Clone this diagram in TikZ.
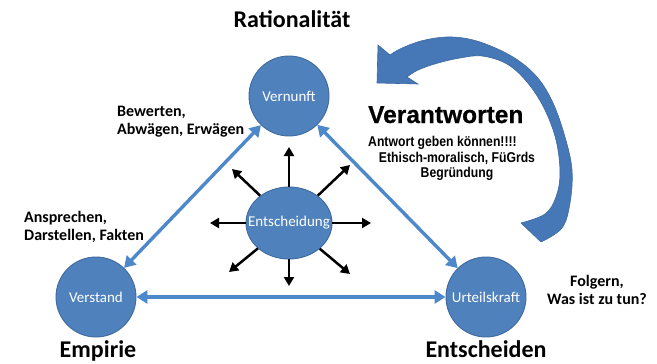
\documentclass[tikz,border=0pt]{standalone}
\usepackage{fontspec}
\setmainfont{Carlito}
\newfontfamily\heavyfont{Liberation Sans}[FakeBold=0.6]
\newfontfamily\narrowfont{Liberation Sans}[FakeStretch=0.86]
\usetikzlibrary{arrows.meta,shapes.geometric}
\definecolor{nodeblue}{HTML}{4F81BD}
\definecolor{nodeedge}{HTML}{3E6A9E}
\definecolor{linkblue}{HTML}{4C88CA}
\definecolor{bendblue}{HTML}{4677B6}
\begin{document}
\begin{tikzpicture}[x=1pt,y=-1pt,
  bubble/.style={circle, fill=nodeblue, draw=nodeedge, line width=0.9pt,
    text=white, font=\fontsize{15}{16}\selectfont, inner sep=0pt, minimum size=80pt},
  link/.style={draw=linkblue, line width=3.4pt,
    {Triangle[length=11pt,width=13pt]}-{Triangle[length=11pt,width=13pt]}},
  ray/.style={draw=black, line width=2.5pt, -{Triangle[length=9pt,width=10pt]}},
  note/.style={font=\fontsize{16}{18}\selectfont\bfseries, inner sep=0pt},
  heading/.style={font=\fontsize{24}{27}\selectfont\bfseries, inner sep=0pt},
  sub/.style={font=\narrowfont\bfseries\fontsize{14.2}{16}\selectfont, inner sep=0pt}]
\useasboundingbox (0,0) rectangle (657,364);

% curved arrow looping back over the top
\fill[bendblue, draw=nodeedge, line width=0.6pt]
  (377,83) -- (378,45) -- (390,55)
  -- plot[smooth, tension=0.6] coordinates {(390,55) (402,48) (425,40) (452,37) (480,42)
      (513,57) (537,77) (553,103) (565,137) (572,170) (570,203) (562,228) (541,242)}
  -- plot[smooth, tension=0.6] coordinates {(521,223) (545,214) (556,197) (560,173)
      (556,140) (544,108) (527,82) (507,64) (482,56) (460,58) (438,63) (418,70) (407,77)}
  -- (418,84) -- cycle;

% circles
\node[bubble] (vern) at (289,96) {Vernunft};
\node[bubble, ellipse, minimum width=86pt, minimum height=72pt] (ent) at (289,223)
  {\makebox[0pt]{Entscheidung}};
\node[bubble] (verst) at (96,297) {Verstand};
\node[bubble] (urt) at (486,297) {Urteilskraft};

% triangle of relations
\draw[link] (vern) -- (verst);
\draw[link] (vern) -- (urt);
\draw[link] (verst) -- (urt);

% rays around the decision
\coordinate (r1) at (289,147);
\coordinate (r2) at (350,165);
\coordinate (r3) at (371,223);
\coordinate (r4) at (350,274);
\coordinate (r5) at (289,286);
\coordinate (r6) at (229,272);
\coordinate (r7) at (210,223);
\coordinate (r8) at (232,169);
\foreach \r in {r1,r2,r3,r4,r5,r6,r7,r8} \draw[ray] (ent) -- (\r);

% headings
\node[heading, anchor=base] (rat) at (292,27.5) {Rationalität};
\node[heading, anchor=base] (emp) at (98,357) {Empirie};
\node[heading, anchor=base] (entsch) at (486,357) {Entscheiden};

% side notes
\node[note, align=left, anchor=west] (bew) at (117,122) {Bewerten,\\Abwägen, Erwägen};
\node[note, align=left, anchor=west] (ansp) at (24,227) {Ansprechen,\\Darstellen, Fakten};
\node[note, align=center, anchor=center] (folg) at (597,290) {Folgern,\\Was ist zu tun?};

% responsibility
\node[font=\heavyfont\bfseries\fontsize{24.5}{27}\selectfont, inner sep=0pt, anchor=base west] (verant) at (368,123) {Verantworten};
\node[sub, anchor=base west] (antw) at (368,146) {Antwort geben können!!!!};
\node[sub, anchor=base] (eth) at (457,162) {Ethisch-moralisch, FüGrds};
\node[sub, anchor=base] (begr) at (457,177) {Begründung};
\end{tikzpicture}
\end{document}
